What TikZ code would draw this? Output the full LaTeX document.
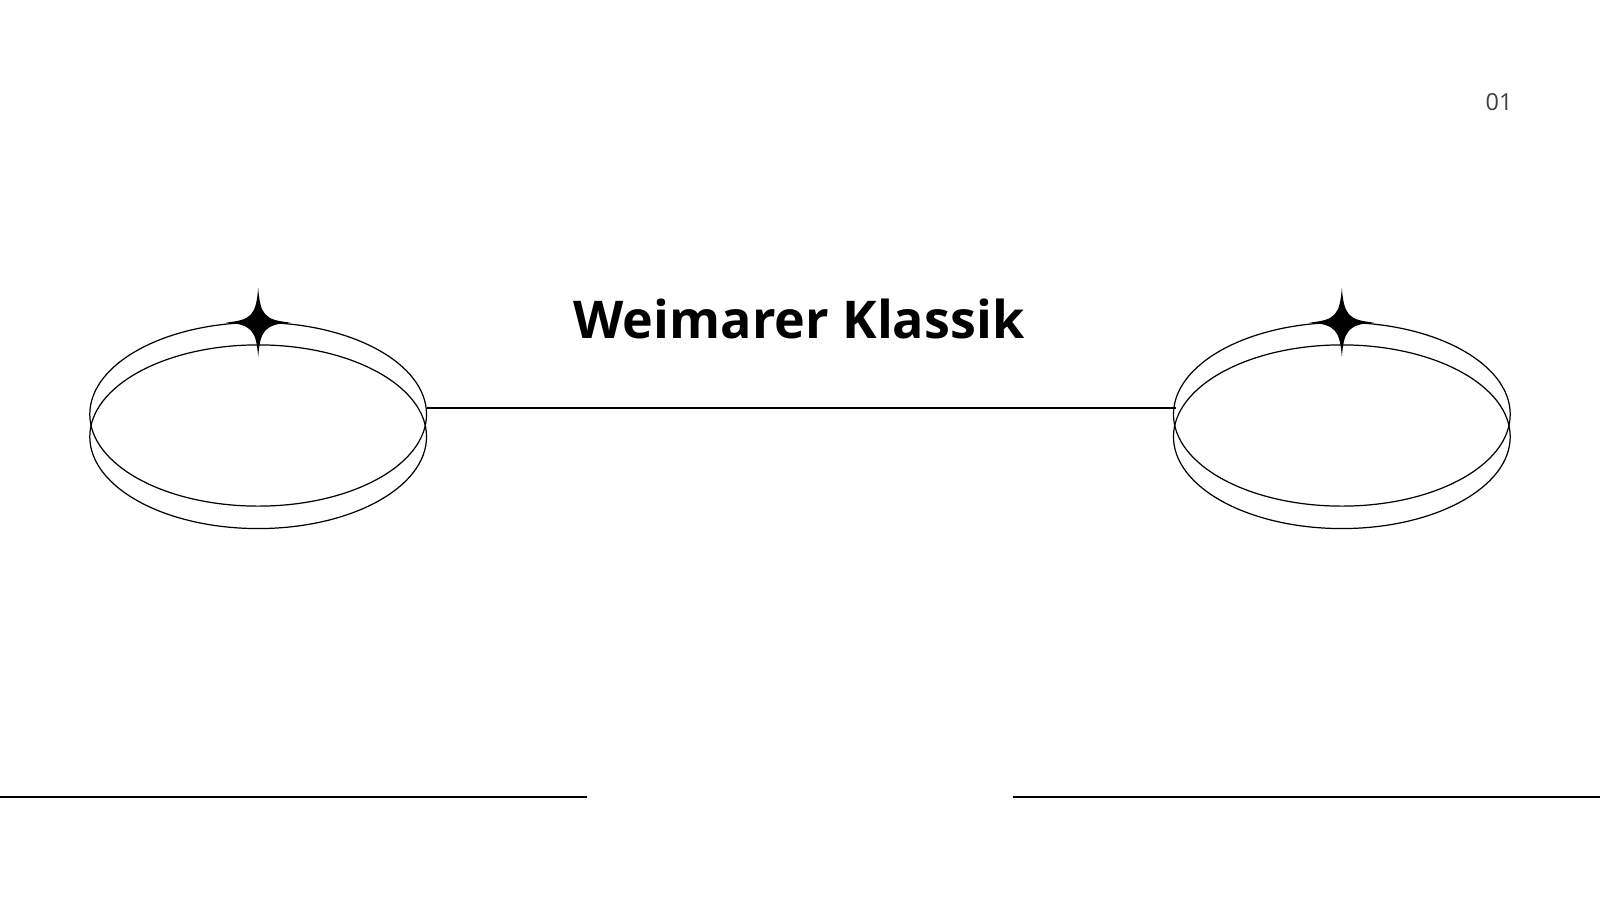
\documentclass[tikz,border=0pt]{standalone}
\usepackage{fontspec}
\setmainfont{Open Sans}
\usepackage{tikz}

\tikzset{
  ring/.style={draw=black, line width=0.6pt},
  rule/.style={draw=black, line width=0.7pt},
  sparkle/.pic={
    \fill[black] (0,34) .. controls (2,8) and (6,2) .. (32,0) .. controls (6,-2) and (2,-8) .. (0,-34)
      .. controls (-2,-8) and (-6,-2) .. (-32,0) .. controls (-6,2) and (-2,8) .. cycle;
  }
}

\begin{document}
\begin{tikzpicture}[x=0.5pt,y=0.5pt,yscale=-1,xscale=1]
\useasboundingbox (0,0) rectangle (1568,882);

%Shape: left rings
\draw [ring] (253,406) ellipse (165 and 90);
\draw [ring] (253,428) ellipse (165 and 90);
\path (253,316) pic {sparkle};
%Shape: right rings
\draw [ring] (1315,406) ellipse (165 and 90);
\draw [ring] (1315,428) ellipse (165 and 90);
\path (1315,316) pic {sparkle};

% Nodes for the connector
\coordinate (lring) at (418,400);
\coordinate (rring) at (1152,400);
\draw [rule] (lring) -- (rring);

% Bottom rules
\coordinate (bl1) at (0,781);
\coordinate (bl2) at (575,781);
\coordinate (br1) at (993,781);
\coordinate (br2) at (1568,781);
\draw [rule] (bl1) -- (bl2);
\draw [rule] (br1) -- (br2);

% Text Node
\node (title) at (783,313) [font=\fontsize{25.5}{30}\selectfont\bfseries] {Weimarer Klassik};
% Text Node
\node (pagenum) at (1469,100) [font=\fontsize{11.5}{13}\selectfont, text=black!75] {01};

\end{tikzpicture}
\end{document}
